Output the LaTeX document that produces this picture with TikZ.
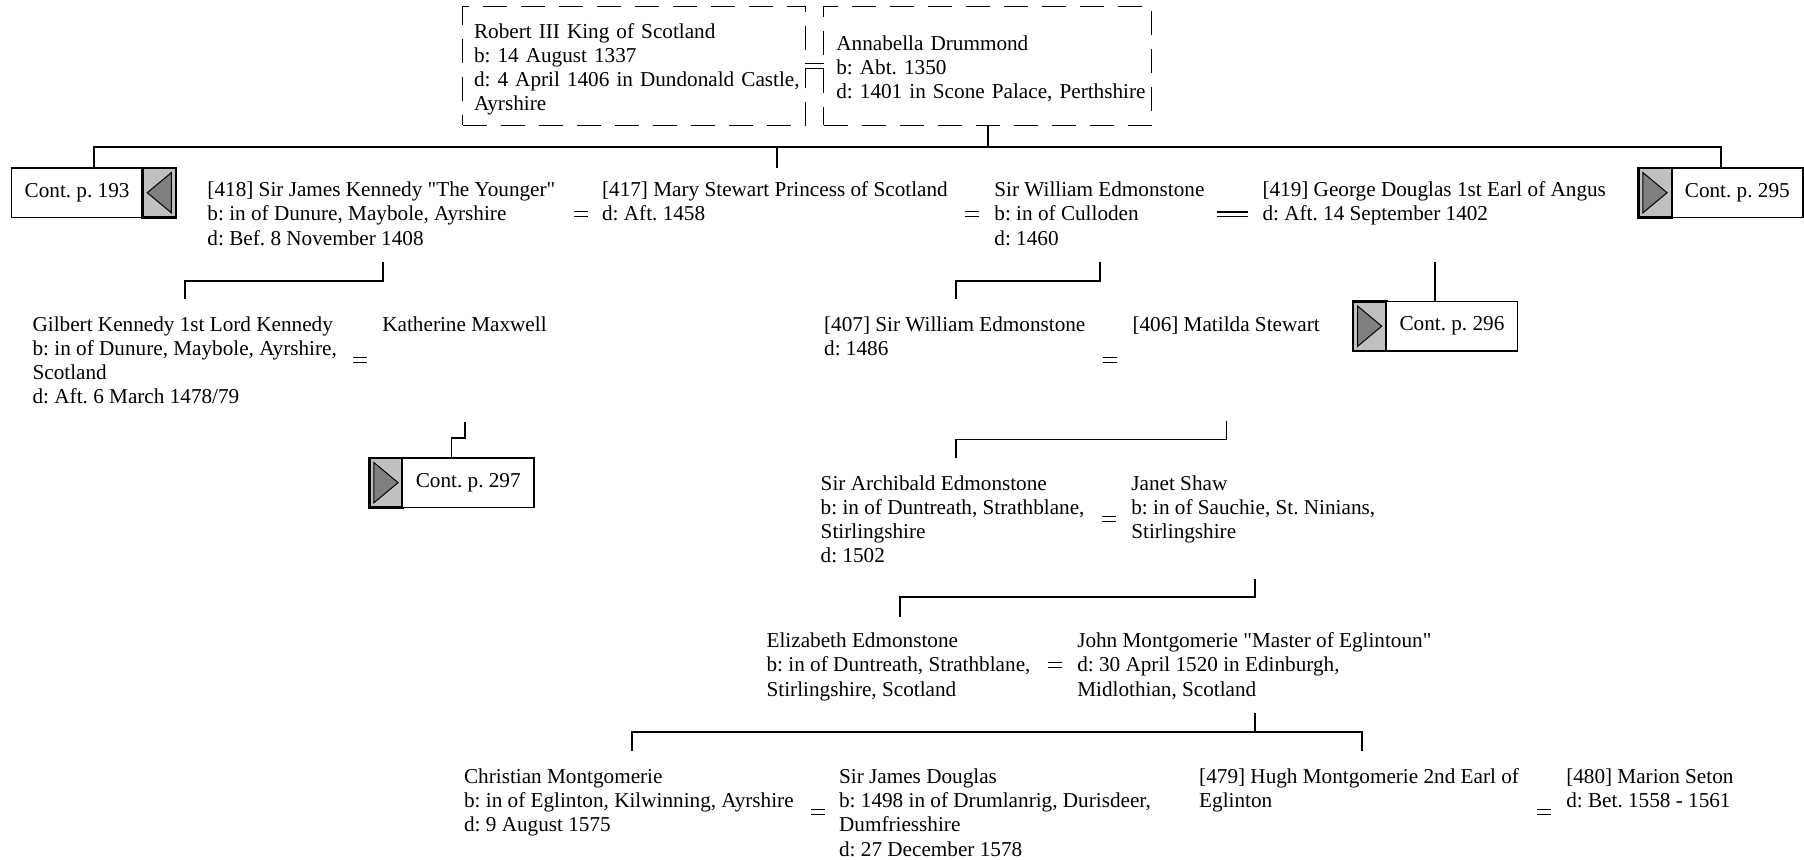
\documentclass[tikz,border=0pt]{standalone}
\usepackage{fontspec}
\setmainfont{Liberation Serif}[Ligatures=TeXOff]
\usetikzlibrary{calc}
\definecolor{contgrey}{HTML}{C0C0C0}
\definecolor{arrowgrey}{HTML}{808080}
\newcommand{\ptxt}[1]{\begin{tabular}[t]{@{}l@{}}#1\end{tabular}}
\frenchspacing
\begin{document}
\frenchspacing
\begin{tikzpicture}[x=0.5752pt, y=-0.5752pt,
  font=\fontsize{10.6}{12.08}\selectfont\frenchspacing,
  person/.style={anchor=base west, inner sep=0pt},
  dbox/.style={draw, dash pattern=on 12pt off 7pt, line width=0.5pt, anchor=north west, inner ysep=0pt, outer sep=0pt, align=left},
  link/.style={line width=0.9pt},
  marr/.style={double, double distance=1.8pt, line width=0.55pt},
  marrw/.style={double, double distance=1.5pt, line width=0.9pt},
  contw/.style={draw, line width=0.8pt, fill=white, minimum width=65.57pt, minimum height=24.73pt, inner sep=0pt, outer sep=0pt, anchor=north west},
  contg/.style={draw, line width=1.2pt, fill=contgrey, minimum width=16.68pt, minimum height=24.73pt, inner sep=0pt, outer sep=0pt, anchor=north west},
  tri/.style={draw, line width=0.5pt, fill=arrowgrey}]
\useasboundingbox (0,0) rectangle (1568,747);

% top couple
\node[dbox, minimum width=171.4pt, minimum height=59.25pt, text width=159.9pt, inner xsep=5.75pt] (robert) at (402,6)
  {\ptxt{\rule{0pt}{11.9pt}Robert III King of Scotland\\ b: 14 August 1337\\ d: 4 April 1406 in Dundonald Castle,\\ Ayrshire}};
\node[dbox, minimum width=163.9pt, minimum height=59.25pt, text width=151.3pt, inner xsep=6.3pt] (anna) at (716,6)
  {\ptxt{\rule{0pt}{11.9pt}Annabella Drummond\\ b: Abt. 1350\\ d: 1401 in Scone Palace, Perthshire}};
\draw[marr] (robert.east) -- (anna.west);

% continuation boxes
\node[contw] (c193) at (10,146) {Cont. p. 193};
\node[contg] (c193g) at (c193.north east) {};
\draw[tri] ($(c193g.north east)+(-4,4)$) -- ($(c193g.south east)+(-4,-4)$) -- ($(c193g.west)+(4,0)$) -- cycle;

\node[contg] (c295g) at (1424,146) {};
\node[contw] (c295) at (c295g.north east) {Cont. p. 295};
\draw[tri] ($(c295g.north west)+(4,4)$) -- ($(c295g.south west)+(4,-4)$) -- ($(c295g.east)+(-4,0)$) -- cycle;

\node[contg] (c296g) at (1176,262) {};
\node[contw] (c296) at (c296g.north east) {Cont. p. 296};
\draw[tri] ($(c296g.north west)+(4,4)$) -- ($(c296g.south west)+(4,-4)$) -- ($(c296g.east)+(-4,0)$) -- cycle;

\node[contg] (c297g) at (321,398) {};
\node[contw] (c297) at (c297g.north east) {Cont. p. 297};
\draw[tri] ($(c297g.north west)+(4,4)$) -- ($(c297g.south west)+(4,-4)$) -- ($(c297g.east)+(-4,0)$) -- cycle;

\coordinate (c193top) at ($(c193.north west)!0.5!(c193g.north east)$);
\coordinate (c295top) at ($(c295g.north west)!0.5!(c295.north east)$);
\coordinate (c296top) at ($(c296g.north west)!0.5!(c296.north east)$);
\coordinate (c297top) at ($(c297g.north west)!0.5!(c297.north east)$);
\coordinate (bar) at (0,128);
\coordinate (gbar) at (0,228);
\coordinate (kbar) at (0,381);

% row 2
\node[person] (james) at (180,171) {\ptxt{[418] Sir James Kennedy "The Younger"\\ b: in of Dunure, Maybole, Ayrshire\\ d: Bef. 8 November 1408}};
\node[person] (mary) at (523,171) {\ptxt{[417] Mary Stewart Princess of Scotland\\ d: Aft. 1458}};
\node[person] (william) at (864,171) {\ptxt{Sir William Edmonstone\\ b: in of Culloden\\ d: 1460}};
\node[person] (george) at (1097,171) {\ptxt{[419] George Douglas 1st Earl of Angus\\ d: Aft. 14 September 1402}};

% row 3
\node[person] (gilbert) at (28,288) {\ptxt{Gilbert Kennedy 1st Lord Kennedy\\ b: in of Dunure, Maybole, Ayrshire,\\ Scotland\\ d: Aft. 6 March 1478/79}};
\node[person] (katherine) at (332,288) {\ptxt{Katherine Maxwell}};
\node[person] (william2) at (716,288) {\ptxt{[407] Sir William Edmonstone\\ d: 1486}};
\node[person] (matilda) at (984,288) {\ptxt{[406] Matilda Stewart}};

% row 4
\node[person] (archibald) at (713,426) {\ptxt{Sir Archibald Edmonstone\\ b: in of Duntreath, Strathblane,\\ Stirlingshire\\ d: 1502}};
\node[person] (janet) at (983,426) {\ptxt{Janet Shaw\\ b: in of Sauchie, St. Ninians,\\ Stirlingshire}};

% row 5
\node[person] (elizabeth) at (666,563) {\ptxt{Elizabeth Edmonstone\\ b: in of Duntreath, Strathblane,\\ Stirlingshire, Scotland}};
\node[person] (john) at (936,563) {\ptxt{John Montgomerie "Master of Eglintoun"\\ d: 30 April 1520 in Edinburgh,\\ Midlothian, Scotland}};

% row 6
\node[person] (christian) at (403,681) {\ptxt{Christian Montgomerie\\ b: in of Eglinton, Kilwinning, Ayrshire\\ d: 9 August 1575}};
\node[person] (jdouglas) at (729,681) {\ptxt{Sir James Douglas\\ b: 1498 in of Drumlanrig, Durisdeer,\\ Dumfriesshire\\ d: 27 December 1578}};
\node[person] (hugh) at (1042,681) {\ptxt{[479] Hugh Montgomerie 2nd Earl of\\ Eglinton}};
\node[person] (marion) at (1361,681) {\ptxt{[480] Marion Seton\\ d: Bet. 1558 - 1561}};

% marriage signs
\draw[marr] (499,186) -- (511,186);
\draw[marr] (839,186) -- (851,186);
\draw[marrw] (1058,186) -- (1085,186);
\draw[marr] (307,313) -- (319,313);
\draw[marr] (959,313) -- (971,313);
\draw[marr] (958,451) -- (970,451);
\draw[marr] (911,578) -- (923,578);
\draw[marr] (705,706) -- (717,706);
\draw[marr] (1336,706) -- (1348,706);

% descent lines
\draw[link] (anna.south) -- (anna.south |- bar);
\draw[link] (c193top) |- (c295top |- bar) -- (c295top);
\draw[link] (675,128) -- (675,146);

\draw[link] (333,228) |- (161,244) -- (161,260);
\draw[link] (956,228) |- (831,244) -- (831,260);
\draw[link] (c296top |- gbar) -- (c296top);

\draw[link] (404,367) |- (c297top |- kbar) -- (c297top);
\draw[link] (1066,366) |- (831,382) -- (831,398);

\draw[link] (1091,503) |- (782,519) -- (782,536);

\draw[link] (1091,620) -- (1091,636);
\draw[link] (549,653) |- (1184,636) -- (1184,653);
\end{tikzpicture}
\end{document}
